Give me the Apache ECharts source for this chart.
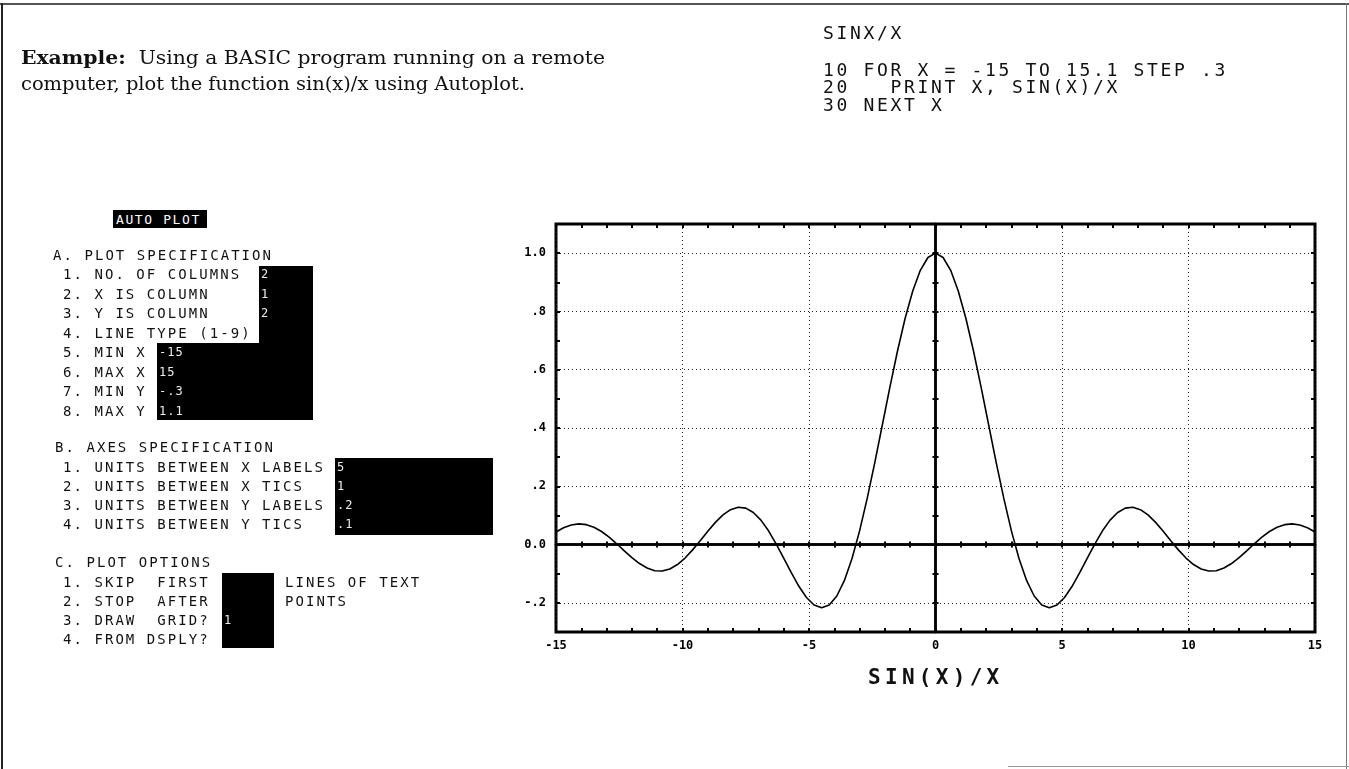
<!DOCTYPE html>
<html>
<head>
<meta charset="utf-8">
<title>SIN(X)/X — Autoplot</title>
<script src="https://cdn.jsdelivr.net/npm/echarts@6/dist/echarts.min.js"></script>
<style>
  html, body { margin: 0; padding: 0; background: #fff; width: 1349px; height: 769px; overflow: hidden; }
  body { position: relative; }
  #chart { position: absolute; left: 0; top: 0; width: 1349px; height: 769px; }
  .t { position: absolute; white-space: pre; line-height: 1; transform-origin: 0 50%; z-index: 2; }
  .mono { font-family: "DejaVu Sans Mono", monospace; font-size: 14px; line-height: 14px; letter-spacing: 2.05px; color: #111; }
  .val { font-family: "DejaVu Sans Mono", monospace; font-size: 12px; line-height: 12px; letter-spacing: 1px; color: #eee; }
  .code { font-family: "DejaVu Sans Mono", monospace; font-size: 18px; line-height: 18px; letter-spacing: 2.66px; color: #111; }
  .serif { font-family: "DejaVu Serif", serif; font-size: 19px; line-height: 19px; color: #111; }
  .box { position: absolute; background: #000; z-index: 1; }
  .rule { position: absolute; z-index: 3; }
</style>
</head>
<body>
<div id="chart"></div>

<!-- page frame -->
<div class="rule" style="left:0;top:3px;width:1349px;height:2px;background:#555"></div>
<div class="rule" style="left:1px;top:3px;width:2px;height:766px;background:#222"></div>
<div class="rule" style="left:1346px;top:3px;width:1px;height:766px;background:#777"></div>
<div class="rule" style="left:1008px;top:766px;width:341px;height:1px;background:#999"></div>

<!-- heading -->
<div id="h1" class="t serif" style="left:21px;top:48px"><b>Example:</b>  Using a BASIC program running on a remote</div>
<div id="h2" class="t serif" style="left:21px;top:74px">computer, plot the function sin(x)/x using Autoplot.</div>

<!-- BASIC listing -->
<div class="t code" style="left:823px;top:24px">SINX/X</div>
<div class="t code" style="left:823px;top:61px">10 FOR X = -15 TO 15.1 STEP .3</div>
<div class="t code" style="left:823px;top:78px">20   PRINT X, SIN(X)/X</div>
<div class="t code" style="left:823px;top:96px">30 NEXT X</div>

<!-- Autoplot form -->
<div class="box" style="left:113px;top:210px;width:94px;height:18px"></div>
<div class="t val" style="left:116px;top:213px;font-size:13px;line-height:13px;letter-spacing:1.6px;color:#fff">AUTO PLOT</div>

<div class="box" style="left:259px;top:266px;width:54px;height:154px"></div>
<div class="box" style="left:157px;top:343px;width:156px;height:77px"></div>
<div class="t mono" style="left:53px;top:248px">A. PLOT SPECIFICATION</div>
<div class="t mono" style="left:63px;top:267px">1. NO. OF COLUMNS</div>
<div class="t mono" style="left:63px;top:286.5px">2. X IS COLUMN</div>
<div class="t mono" style="left:63px;top:306px">3. Y IS COLUMN</div>
<div class="t mono" style="left:63px;top:325.5px">4. LINE TYPE (1-9)</div>
<div class="t mono" style="left:63px;top:345px">5. MIN X</div>
<div class="t mono" style="left:63px;top:364.5px">6. MAX X</div>
<div class="t mono" style="left:63px;top:384px">7. MIN Y</div>
<div class="t mono" style="left:63px;top:403.5px">8. MAX Y</div>
<div class="t val" style="left:261px;top:268px">2</div>
<div class="t val" style="left:261px;top:287.5px">1</div>
<div class="t val" style="left:261px;top:307px">2</div>
<div class="t val" style="left:159px;top:346px">-15</div>
<div class="t val" style="left:159px;top:365.5px">15</div>
<div class="t val" style="left:159px;top:385px">-.3</div>
<div class="t val" style="left:159px;top:404.5px">1.1</div>

<div class="box" style="left:335px;top:458px;width:158px;height:77px"></div>
<div class="t mono" style="left:55px;top:440px">B. AXES SPECIFICATION</div>
<div class="t mono" style="left:63px;top:460px">1. UNITS BETWEEN X LABELS</div>
<div class="t mono" style="left:63px;top:479px">2. UNITS BETWEEN X TICS</div>
<div class="t mono" style="left:63px;top:498px">3. UNITS BETWEEN Y LABELS</div>
<div class="t mono" style="left:63px;top:517px">4. UNITS BETWEEN Y TICS</div>
<div class="t val" style="left:337px;top:461px">5</div>
<div class="t val" style="left:337px;top:480px">1</div>
<div class="t val" style="left:337px;top:499px">.2</div>
<div class="t val" style="left:337px;top:518px">.1</div>

<div class="box" style="left:222px;top:573px;width:52px;height:75px"></div>
<div class="t mono" style="left:55px;top:555px">C. PLOT OPTIONS</div>
<div class="t mono" style="left:63px;top:575px">1. SKIP  FIRST</div>
<div class="t mono" style="left:63px;top:594px">2. STOP  AFTER</div>
<div class="t mono" style="left:63px;top:613px">3. DRAW  GRID?</div>
<div class="t mono" style="left:63px;top:632px">4. FROM DSPLY?</div>
<div class="t mono" style="left:285px;top:575px">LINES OF TEXT</div>
<div class="t mono" style="left:285px;top:594px">POINTS</div>
<div class="t val" style="left:224px;top:614px">1</div>

<!-- plot caption -->
<div id="cap" class="t" style="left:868px;top:667px;font-family:'DejaVu Sans Mono',monospace;font-weight:bold;font-size:21px;line-height:21px;letter-spacing:4.3px;color:#111">SIN(X)/X</div>

<script>
// X values from the listing: FOR X = -15 TO 15.1 STEP .3
const xValues = [
  -15, -14.7, -14.4, -14.1, -13.8, -13.5, -13.2, -12.9, -12.6, -12.3,
  -12, -11.7, -11.4, -11.1, -10.8, -10.5, -10.2, -9.9, -9.6, -9.3,
  -9, -8.7, -8.4, -8.1, -7.8, -7.5, -7.2, -6.9, -6.6, -6.3,
  -6, -5.7, -5.4, -5.1, -4.8, -4.5, -4.2, -3.9, -3.6, -3.3,
  -3, -2.7, -2.4, -2.1, -1.8, -1.5, -1.2, -0.9, -0.6, -0.3,
  0,
  0.3, 0.6, 0.9, 1.2, 1.5, 1.8, 2.1, 2.4, 2.7, 3,
  3.3, 3.6, 3.9, 4.2, 4.5, 4.8, 5.1, 5.4, 5.7, 6,
  6.3, 6.6, 6.9, 7.2, 7.5, 7.8, 8.1, 8.4, 8.7, 9,
  9.3, 9.6, 9.9, 10.2, 10.5, 10.8, 11.1, 11.4, 11.7, 12,
  12.3, 12.6, 12.9, 13.2, 13.5, 13.8, 14.1, 14.4, 14.7, 15
];

// Printed column 2: SIN(X)/X
const yValues = [
  0.0434, 0.0575, 0.0671, 0.0709, 0.0684, 0.0595, 0.0449, 0.0254, 0.0027, -0.0214,
  -0.0447, -0.0651, -0.0806, -0.0896, -0.0908, -0.0838, -0.0686, -0.0462, -0.0182, 0.0134,
  0.0458, 0.0762, 0.1017, 0.1197, 0.1280, 0.1251, 0.1102, 0.0838, 0.0472, 0.0027,
  -0.0466, -0.0966, -0.1431, -0.1815, -0.2075, -0.2172, -0.2075, -0.1764, -0.1229, -0.0478,
  0.0470, 0.1583, 0.2814, 0.4111, 0.5410, 0.6650, 0.7767, 0.8704, 0.9411, 0.9851,
  1.0000,
  0.9851, 0.9411, 0.8704, 0.7767, 0.6650, 0.5410, 0.4111, 0.2814, 0.1583, 0.0470,
  -0.0478, -0.1229, -0.1764, -0.2075, -0.2172, -0.2075, -0.1815, -0.1431, -0.0966, -0.0466,
  0.0027, 0.0472, 0.0838, 0.1102, 0.1251, 0.1280, 0.1197, 0.1017, 0.0762, 0.0458,
  0.0134, -0.0182, -0.0462, -0.0686, -0.0838, -0.0908, -0.0896, -0.0806, -0.0651, -0.0447,
  -0.0214, 0.0027, 0.0254, 0.0449, 0.0595, 0.0684, 0.0709, 0.0671, 0.0575, 0.0434
];

// Axis specification: MIN/MAX X, MIN/MAX Y, label and tic spacing
const xMin = -15, xMax = 15, xLabelStep = 5, xTicsPerLabel = 5;
const yMin = -0.3, yMax = 1.1, yTicStep = 0.1;

// Y labels (every .2) and the dotted grid rows drawn at them
const yLabelValues = [-0.2, 0, 0.2, 0.4, 0.6, 0.8, 1.0];
const yLabelTexts  = ['-.2', '0.0', '.2', '.4', '.6', '.8', '1.0'];
const yGridValues  = [-0.2, 0.2, 0.4, 0.6, 0.8, 1.0];

const INK = '#000';
const labelFont = { fontFamily: '"DejaVu Sans Mono", monospace', fontWeight: 'bold', fontSize: 12, color: INK };

function yLabel(v) {
  const i = yLabelValues.findIndex(t => Math.abs(t - v) < 1e-6);
  return i >= 0 ? yLabelTexts[i] : '';
}

function xAxisDef(extra) {
  return Object.assign({
    type: 'value', min: xMin, max: xMax, interval: xLabelStep,
    axisLabel: { show: false },
    splitLine: { show: false },
    axisTick: { show: true, inside: true, length: 4, lineStyle: { color: INK, width: 2 } },
    minorTick: { show: true, splitNumber: xTicsPerLabel, length: 4, lineStyle: { color: INK, width: 2 } },
    axisLine: { show: false, onZero: false }
  }, extra);
}

function yAxisDef(extra) {
  return Object.assign({
    type: 'value', min: yMin, max: yMax, interval: yTicStep,
    axisLabel: { show: false },
    splitLine: { show: false },
    axisTick: { show: true, inside: true, length: 4, lineStyle: { color: INK, width: 2 } },
    axisLine: { show: false, onZero: false }
  }, extra);
}

const zeroLine = { show: true, onZero: true, onZeroAxisIndex: 0, lineStyle: { color: INK, width: 2.5 } };

const chart = echarts.init(document.getElementById('chart'), null, { renderer: 'canvas' });
chart.setOption({
  animation: false,
  backgroundColor: 'transparent',
  grid: {
    left: 556, top: 224, width: 759, height: 408,
    show: true, borderColor: INK, borderWidth: 3, backgroundColor: 'transparent',
    outerBoundsMode: 'none'
  },
  xAxis: [
    // bottom frame: labels, dotted grid columns, tics
    xAxisDef({
      position: 'bottom',
      axisLabel: Object.assign({ show: true, margin: 8, formatter: v => String(v) }, labelFont),
      splitLine: { show: true, lineStyle: { color: '#222', width: 1, type: [1, 3] } }
    }),
    // top frame tics
    xAxisDef({ position: 'top' }),
    // X = 0 row of the axes cross, tics on both sides
    xAxisDef({ position: 'bottom', axisLine: zeroLine, axisTick: { show: true, inside: true, length: 3, lineStyle: { color: INK, width: 2 } }, minorTick: { show: true, splitNumber: xTicsPerLabel, length: 3, lineStyle: { color: INK, width: 2 } } }),
    xAxisDef({ position: 'bottom', axisLine: zeroLine, axisTick: { show: true, inside: false, length: 3, lineStyle: { color: INK, width: 2 } }, minorTick: { show: true, splitNumber: xTicsPerLabel, length: 3, lineStyle: { color: INK, width: 2 } } })
  ],
  yAxis: [
    yAxisDef({
      position: 'left',
      axisLabel: Object.assign({ show: true, margin: 10, formatter: yLabel, showMinLabel: true, showMaxLabel: true }, labelFont)
    }),
    yAxisDef({ position: 'right' }),
    yAxisDef({ position: 'left', axisLine: zeroLine, axisTick: { show: true, inside: true, length: 3, lineStyle: { color: INK, width: 2 } } }),
    yAxisDef({ position: 'left', axisLine: zeroLine, axisTick: { show: true, inside: false, length: 3, lineStyle: { color: INK, width: 2 } } })
  ],
  series: [{
    type: 'line',
    xAxisIndex: 0, yAxisIndex: 0,
    data: xValues.map((x, i) => [x, yValues[i]]),
    showSymbol: false,
    symbol: 'none',
    smooth: false,
    lineStyle: { color: INK, width: 1.6 },
    z: 5,
    markLine: {
      silent: true,
      symbol: ['none', 'none'],
      label: { show: false },
      lineStyle: { color: '#222', width: 1, type: [1, 3] },
      data: yGridValues.map(v => ({ yAxis: v }))
    }
  }]
});

// stretch each heading line to its set width
(function () {
  [['h1', 584], ['h2', 504]].forEach(([id, w]) => {
    const el = document.getElementById(id);
    el.style.transform = 'scaleX(' + (w / el.getBoundingClientRect().width) + ')';
  });
})();
</script>
</body>
</html>
